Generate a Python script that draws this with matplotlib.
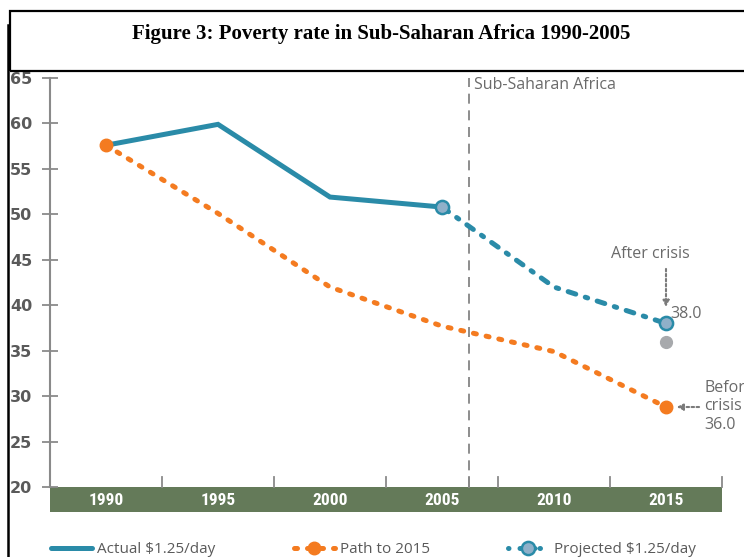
import matplotlib.pyplot as plt
from matplotlib.lines import Line2D
from matplotlib.patches import Rectangle
from matplotlib.transforms import blended_transform_factory
from matplotlib import font_manager

# poverty rate, % of population living under $1.25/day
actual_years = [1990, 1995, 2000, 2005]
actual_rate = [57.6, 59.9, 51.9, 50.8]

path_years = [1990, 1995, 2000, 2005, 2010, 2015]
path_rate = [57.6, 50.1, 42.0, 37.7, 34.9, 28.8]

proj_years = [2005, 2010, 2015]
proj_rate = [50.8, 42.0, 38.0]

before_year = 2015
before_rate = 36.0

year_labels = [1990, 1995, 2000, 2005, 2010, 2015]
yticks = list(range(20, 70, 5))
crisis_year = 2006.2

TEAL = '#2a8ba8'
ORANGE = '#f47b20'
GREY_TXT = '#5a5a5a'
ANN_C = '#6a6a6a'
ANN = ['Open Sans', 'DejaVu Sans']

# narrow face for the year band, if one is around
names = {f.name for f in font_manager.fontManager.ttflist}
NARROW = [n for n in ['Liberation Sans Narrow', 'Roboto Condensed', 'DejaVu Sans Condensed']
          if n in names] + ['DejaVu Sans']

W, H = 744, 557
fig = plt.figure(figsize=(W / 100, H / 100), dpi=100)
ax = fig.add_axes([50 / W, (H - 487) / H, 672 / W, 409 / H])
ax.set_axisbelow(False)

ax.set_xlim(1987.5, 2017.5)
ax.set_ylim(20, 65)

# series
ax.plot(actual_years, actual_rate, color=TEAL, lw=3.6, solid_capstyle='round',
        solid_joinstyle='miter', zorder=3)
ax.plot(path_years, path_rate, color=ORANGE, lw=3.6, linestyle=(0, (0.6, 2.0)),
        dash_capstyle='round', marker='o', markevery=[0, len(path_years) - 1],
        ms=9, mec=ORANGE, mfc=ORANGE, zorder=4)
ax.plot(proj_years, proj_rate, color=TEAL, lw=3.6, linestyle=(0, (1.6, 2.0, 0.5, 2.0)),
        dash_capstyle='round', marker='o', markevery=[0, len(proj_years) - 1],
        ms=9.5, mec=TEAL, mfc='#8fb0c9', mew=1.8, zorder=4)
ax.plot([before_year], [before_rate], 'o', color='#a7a9ac', ms=8.5, zorder=4)

# dashed divider
ax.axvline(crisis_year, ymin=0, ymax=1, color='#7a7a7a', lw=1.2,
           linestyle=(0, (6, 4)), zorder=1)
ax.text(crisis_year + 0.25, 64.2, 'Sub-Saharan Africa', family=ANN, fontsize=11.5,
        color=ANN_C, ha='left', va='center')

# annotations
ax.annotate('', xy=(2015, 39.5), xytext=(2015, 44.3),
            arrowprops=dict(arrowstyle='-|>', color='#7a7a7a', lw=1.5,
                            linestyle=(0, (1.2, 1.2)), mutation_scale=9))
ax.text(2014.3, 45.6, 'After crisis', family=ANN, fontsize=11.5, color=ANN_C,
        ha='center', va='center')
ax.text(2015.2, 38.2, '38.0', family=ANN, fontsize=11.5, color=ANN_C,
        ha='left', va='bottom')
ax.annotate('', xy=(2015.35, 28.8), xytext=(2016.6, 28.8),
            arrowprops=dict(arrowstyle='-|>', color='#7a7a7a', lw=1.5,
                            linestyle=(0, (1.2, 1.2)), mutation_scale=9))
ax.text(2016.7, 28.9, 'Before\ncrisis\n36.0', family=ANN, fontsize=11.5,
        color=ANN_C, ha='left', va='center', linespacing=1.2, clip_on=False)

# axes styling
for s in ['top', 'right', 'bottom']:
    ax.spines[s].set_visible(False)
ax.spines['left'].set_color('#8a8a8a')
ax.spines['left'].set_linewidth(1.5)

ax.set_yticks(yticks)
ax.tick_params(axis='y', direction='inout', length=11.5, width=1.3, color='#8a8a8a',
               pad=7, labelsize=11.5, labelcolor=GREY_TXT)
for lbl in ax.get_yticklabels():
    lbl.set_fontweight('bold')

# green year band below the plot
band_h = 25 / 409
ax.add_patch(Rectangle((0, -band_h), 1, band_h, transform=ax.transAxes,
                       facecolor='#647a59', edgecolor='none', clip_on=False, zorder=1))
ax.set_xticks(year_labels)
ax.set_xticklabels([str(y) for y in year_labels], family=NARROW, fontstretch='condensed',
                   fontweight='bold', fontsize=12.5, color='white')
ax.tick_params(axis='x', length=0, pad=4.5)

bounds = [1987.5 + 5 * i for i in range(7)] + [crisis_year]
trans = blended_transform_factory(ax.transData, ax.transAxes)
for b in bounds:
    ax.plot([b, b], [0, 10 / 409], color='#8a8a8a', lw=1.3, transform=trans,
            clip_on=False, zorder=2)

# legend
handles = [
    Line2D([], [], color=TEAL, lw=3.6, solid_capstyle='round'),
    Line2D([], [], color=ORANGE, lw=3.6, linestyle=(0, (0.6, 2.0)),
           dash_capstyle='round', marker='o', ms=9, mfc=ORANGE, mec=ORANGE),
    Line2D([], [], color=TEAL, lw=3.6, linestyle=(0, (0.1, 2.2, 3, 1)),
           dash_capstyle='round', marker='o', ms=9.5, mfc='#8fb0c9', mec=TEAL, mew=1.8),
]
fig.legend(handles, ['Actual $1.25/day', 'Path to 2015', 'Projected $1.25/day'],
           loc='lower left', bbox_to_anchor=(48 / W, -3 / H), ncol=3, frameon=False,
           prop={'family': ANN, 'size': 11}, labelcolor=GREY_TXT,
           handlelength=2.7, handletextpad=0.33, columnspacing=5.1, borderpad=0.1,
           borderaxespad=0.1)

# title box and page frame
fig.patches.append(Rectangle((10 / W, (H - 71) / H), 760 / W, 60 / H,
                             transform=fig.transFigure, facecolor='none',
                             edgecolor='black', lw=1.6))
fig.lines.append(Line2D([7.5 / W, 7.5 / W], [0, (H - 25) / H], transform=fig.transFigure,
                        color='black', lw=1.8))
fig.text(381 / W, (H - 34) / H, 'Figure 3: Poverty rate in Sub-Saharan Africa 1990-2005',
         family=['Liberation Serif', 'DejaVu Serif'], fontweight='bold', fontsize=15,
         ha='center', va='center')

fig.savefig('out.png', dpi=100)
